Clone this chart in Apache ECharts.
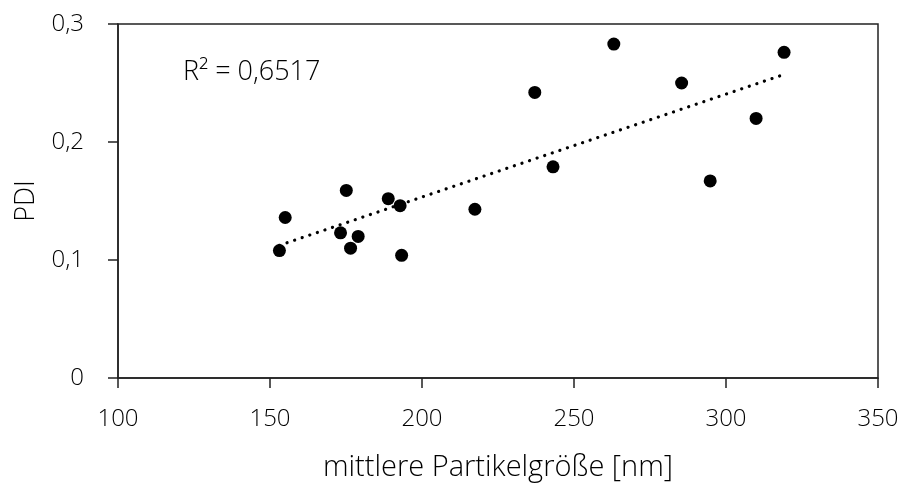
<!DOCTYPE html>
<html>
<head>
<meta charset="utf-8">
<script src="https://cdn.jsdelivr.net/npm/echarts@6/dist/echarts.min.js"></script>
<style>
  html, body { margin: 0; padding: 0; background: #fff; }
  #chart { width: 904px; height: 484px; }
</style>
</head>
<body>
<div id="chart"></div>
<script>
// mittlere Partikelgröße [nm]
var sizeNm = [153.1, 155.0, 175.1, 173.2, 176.5, 179.0, 188.9, 192.8, 193.3, 217.4, 237.1, 243.1, 263.1, 285.4, 294.8, 309.9, 319.1];
// PDI
var pdi = [0.108, 0.136, 0.159, 0.123, 0.110, 0.120, 0.152, 0.146, 0.104, 0.143, 0.242, 0.179, 0.283, 0.250, 0.167, 0.220, 0.276];
var xTicks = [100, 150, 200, 250, 300, 350];
var yTicks = [0, 0.1, 0.2, 0.3];
var r2Label = "R² = 0,6517";

var FONT = "Open Sans";

// linearer Trend (kleinste Quadrate)
function linFit(xs, ys) {
  var n = xs.length, sx = 0, sy = 0, sxx = 0, sxy = 0;
  for (var i = 0; i < n; i++) {
    sx += xs[i]; sy += ys[i]; sxx += xs[i] * xs[i]; sxy += xs[i] * ys[i];
  }
  var b = (n * sxy - sx * sy) / (n * sxx - sx * sx);
  var a = (sy - b * sx) / n;
  return { a: a, b: b };
}
var fit = linFit(sizeNm, pdi);
var xMin = Math.min.apply(null, sizeNm), xMax = Math.max.apply(null, sizeNm);
var trend = [[xMin, fit.a + fit.b * xMin], [xMax, fit.a + fit.b * xMax]];

var points = sizeNm.map(function (x, i) { return [x, pdi[i]]; });

var chart = echarts.init(document.getElementById("chart"));
chart.setOption({
  animation: false,
  grid: {
    left: 118, right: 26, top: 24, bottom: 106,
    outerBoundsMode: "none",
    show: true, borderColor: "#222", borderWidth: 1.5, backgroundColor: "transparent"
  },
  xAxis: {
    type: "value",
    min: xTicks[0],
    max: xTicks[xTicks.length - 1],
    interval: 50,
    name: "mittlere Partikelgröße [nm]",
    nameLocation: "middle",
    nameGap: 75,
    nameTextStyle: { fontFamily: FONT, fontWeight: 300, fontSize: 29, color: "#000" },
    axisLine: { show: true, onZero: false, lineStyle: { color: "#222", width: 1.5 } },
    axisTick: { show: true, length: 10, lineStyle: { color: "#222", width: 1.5 } },
    axisLabel: { margin: 29, fontFamily: FONT, fontWeight: 300, fontSize: 24, color: "#000" },
    splitLine: { show: false }
  },
  yAxis: {
    type: "value",
    min: yTicks[0],
    max: yTicks[yTicks.length - 1],
    interval: 0.1,
    name: "PDI",
    nameLocation: "middle",
    nameGap: 78,
    nameRotate: 90,
    nameTextStyle: { fontFamily: FONT, fontWeight: 300, fontSize: 27, color: "#000" },
    axisLine: { show: true, lineStyle: { color: "#222", width: 1.5 } },
    axisTick: { show: true, length: 10, lineStyle: { color: "#222", width: 1.5 } },
    axisLabel: {
      margin: 34, fontFamily: FONT, fontWeight: 300, fontSize: 24, color: "#000",
      formatter: function (v) { return v === 0 ? "0" : v.toFixed(1).replace(".", ","); }
    },
    splitLine: { show: false }
  },
  graphic: [{
    type: "text",
    left: 183,
    top: 59,
    style: { text: r2Label, font: "300 27px '" + FONT + "'", fill: "#000" }
  }],
  series: [
    {
      type: "line",
      data: trend,
      symbol: "none",
      silent: true,
      lineStyle: { color: "#000", width: 3.2, type: [0.1, 7.9], cap: "round" }
    },
    {
      type: "scatter",
      data: points,
      symbol: "circle",
      symbolSize: 13,
      itemStyle: { color: "#000", opacity: 1 }
    }
  ]
});
</script>
</body>
</html>
